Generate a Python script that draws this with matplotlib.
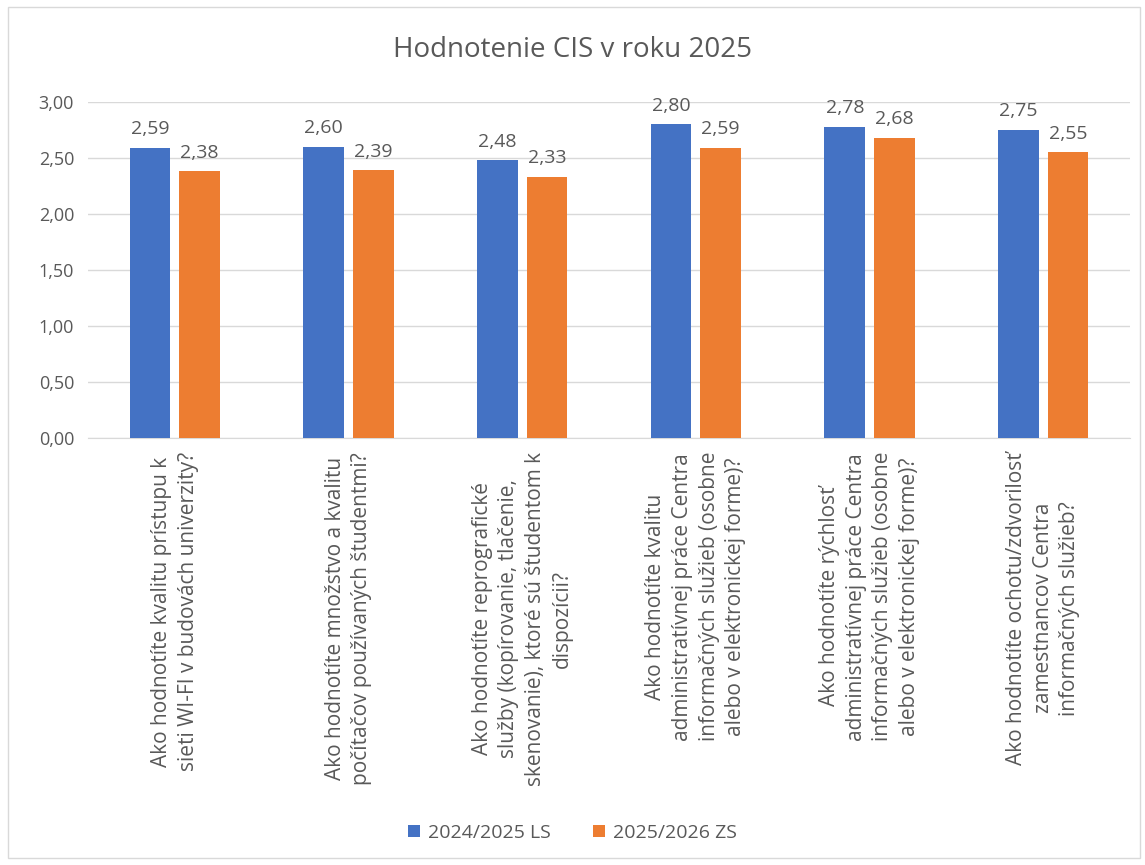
import matplotlib.pyplot as plt
import numpy as np
from matplotlib.patches import Rectangle

plt.rcParams['font.family'] = ['Open Sans', 'DejaVu Sans']

# Údaje
otazky = [
    "Ako hodnotíte kvalitu prístupu k\nsieti WI-FI v budovách univerzity?",
    "Ako hodnotíte množstvo a kvalitu\npočítačov používaných študentmi?",
    "Ako hodnotíte reprografické\nslužby (kopírovanie, tlačenie,\nskenovanie), ktoré sú študentom k\ndispozícii?",
    "Ako hodnotíte kvalitu\nadministratívnej práce Centra\ninformačných služieb (osobne\nalebo v elektronickej forme)?",
    "Ako hodnotíte rýchlosť\nadministratívnej práce Centra\ninformačných služieb (osobne\nalebo v elektronickej forme)?",
    "Ako hodnotíte ochotu/zdvorilosť\nzamestnancov Centra\ninformačných služieb?",
]
ls_2024 = [2.59, 2.60, 2.48, 2.80, 2.78, 2.75]
zs_2025 = [2.38, 2.39, 2.33, 2.59, 2.68, 2.55]
serie = ["2024/2025 LS", "2025/2026 ZS"]
farby = ["#4472C4", "#ED7D31"]
sivy = "#595959"

fig = plt.figure(figsize=(11.45, 8.65), dpi=100)
fig.patches.append(Rectangle((8 / 1145, 7 / 865), 1132 / 1145, 851 / 865,
                             transform=fig.transFigure, fill=False,
                             edgecolor="#d9d9d9", linewidth=1))
ax = fig.add_axes([88 / 1145, 1 - 438 / 865, 1042 / 1145, 336 / 865])

x = np.arange(len(otazky))
w = 0.235
b1 = ax.bar(x - w / 2 - 0.025, ls_2024, w, color=farby[0], label=serie[0], zorder=3)
b2 = ax.bar(x + w / 2 + 0.025, zs_2025, w, color=farby[1], label=serie[1], zorder=3)

for bars in (b1, b2):
    for r in bars:
        ax.annotate(f"{r.get_height():.2f}".replace(".", ","),
                    (r.get_x() + r.get_width() / 2, r.get_height()),
                    xytext=(0, 7), textcoords="offset points",
                    ha="center", va="bottom", fontsize=14, color=sivy)

ax.set_ylim(0, 3)
ax.set_xlim(-0.5, len(otazky) - 0.5)
yt = np.arange(0, 3.01, 0.5)
ax.set_yticks(yt)
ax.set_yticklabels([f"{v:.2f}".replace(".", ",") for v in yt], fontsize=13, color=sivy)
ax.grid(axis="y", color="#d9d9d9", linewidth=1, zorder=0)
ax.tick_params(axis="both", length=0)
ax.tick_params(axis="y", pad=10)
for s in ["left", "right", "top"]:
    ax.spines[s].set_visible(False)
ax.spines["bottom"].set_color("#d9d9d9")

ax.set_xticks(x)
ax.set_xticklabels(otazky, rotation=90, fontsize=15, color=sivy,
                   ha="center", va="top", multialignment="center", linespacing=1.35)
ax.tick_params(axis="x", pad=10)

fig.text(0.5, 1 - 50 / 865, "Hodnotenie CIS v roku 2025", ha="center", va="center",
         fontsize=20, color=sivy)

fig.legend(handles=[b1, b2], labels=serie, loc="center", bbox_to_anchor=(0.5, 1 - 833 / 865),
           ncol=2, frameon=False, fontsize=14, handlelength=0.6, handleheight=0.6,
           columnspacing=2.2, handletextpad=0.4, labelcolor=sivy)

fig.savefig("out.png", dpi=100, facecolor="white")
